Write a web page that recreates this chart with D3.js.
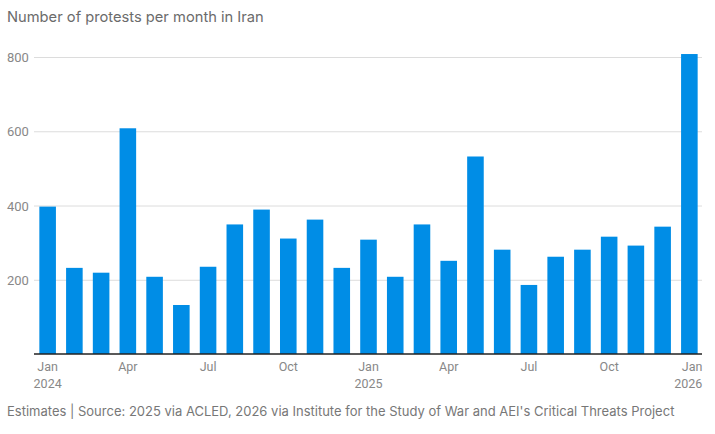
<!DOCTYPE html>
<html>
<head>
<meta charset="utf-8">
<script src="https://cdn.jsdelivr.net/npm/d3@7"></script>
<style>
  body { margin: 0; background: #fff; }
  svg { display: block; }
  .title { font-family: Inter, "Noto Sans", sans-serif; font-size: 14.7px; fill: #6b6b6b; }
  .note { font-family: Inter, "Noto Sans", sans-serif; font-size: 13px; fill: #777; }
  .tick text { font-family: Roboto, sans-serif; fill: #888; }
</style>
</head>
<body>
<div id="chart"></div>
<script>
// monthly counts, Jan 2024 .. Jan 2026
const months = ['2024-01','2024-02','2024-03','2024-04','2024-05','2024-06','2024-07','2024-08','2024-09','2024-10','2024-11','2024-12',
  '2025-01','2025-02','2025-03','2025-04','2025-05','2025-06','2025-07','2025-08','2025-09','2025-10','2025-11','2025-12','2026-01'];
const protests = [397, 232, 219, 608, 208, 132, 235, 349, 389, 311, 362, 232,
  308, 208, 349, 251, 532, 281, 186, 262, 281, 316, 292, 343, 808];
const yTicks = [200, 400, 600, 800];
const xTickMonths = ['2024-01','2024-04','2024-07','2024-10','2025-01','2025-04','2025-07','2025-10','2026-01'];
const monthNames = ['Jan','Feb','Mar','Apr','May','Jun','Jul','Aug','Sep','Oct','Nov','Dec'];

const config = {
    width: 715,
    height: 434,
    left: 34,
    right: 703,
    top: 57,
    bottom: 354,
};

const svg = d3.select('#chart')
    .append('svg')
    .attr('width', config.width)
    .attr('height', config.height)
;

const x = d3.scaleBand()
    .domain(months)
    .range([config.left, config.right])
    .paddingInner(0.38)
    .paddingOuter(0.2)
;

const y = d3.scaleLinear()
    .domain([0, 800])
    .range([config.bottom, config.top])
;

svg.append('text')
    .attr('class', 'title')
    .attr('x', 7)
    .attr('y', 22)
    .text('Number of protests per month in Iran')
;

// gridlines + y labels
const yAxis = svg.append('g')
    .attr('transform', `translate(${config.left},0)`)
    .call(d3.axisLeft(y).tickValues(yTicks).tickSize(-(702 - config.left)).tickPadding(5))
;
yAxis.select('.domain').remove();
yAxis.selectAll('.tick line').attr('stroke', '#dcdcdc').attr('stroke-width', 1);
yAxis.selectAll('.tick text')
    .attr('text-anchor', 'start')
    .attr('x', 7 - config.left)
    .attr('dy', '0.36em')
    .style('font-size', '13px')
;

svg.append('g')
    .selectAll('rect')
    .data(protests)
    .join('rect')
    .attr('x', (d, i) => x(months[i]))
    .attr('width', x.bandwidth())
    .attr('y', d => y(d))
    .attr('height', d => y(0) - y(d))
    .attr('fill', '#008de6')
;

// x axis
const xAxis = svg.append('g')
    .attr('transform', `translate(0,${config.bottom})`)
    .call(d3.axisBottom(x).tickValues(xTickMonths).tickSize(0).tickPadding(0))
;
xAxis.select('.domain').remove();
xAxis.selectAll('.tick text').remove();
xAxis.selectAll('.tick').each(function(m) {
    const [yr, mo] = m.split('-');
    const t = d3.select(this).append('text')
        .attr('text-anchor', 'middle')
        .style('font-size', '12.5px')
    ;
    t.append('tspan').attr('x', 0).attr('y', 17).text(monthNames[+mo - 1]);
    if (mo === '01') {
        t.append('tspan').attr('x', 0).attr('y', 34).text(yr);
    }
});
// last label sits flush to the right edge
xAxis.selectAll('.tick').filter(m => m === '2026-01').select('text')
    .attr('text-anchor', 'end')
    .selectAll('tspan').attr('x', 13)
;

svg.append('line')
    .attr('x1', config.left)
    .attr('x2', 702)
    .attr('y1', config.bottom)
    .attr('y2', config.bottom)
    .attr('stroke', '#222')
    .attr('stroke-width', 1.5)
;

svg.append('text')
    .attr('class', 'note')
    .attr('x', 7)
    .attr('y', 416)
    .text("Estimates | Source: 2025 via ACLED, 2026 via Institute for the Study of War and AEI's Critical Threats Project")
;
</script>
</body>
</html>
